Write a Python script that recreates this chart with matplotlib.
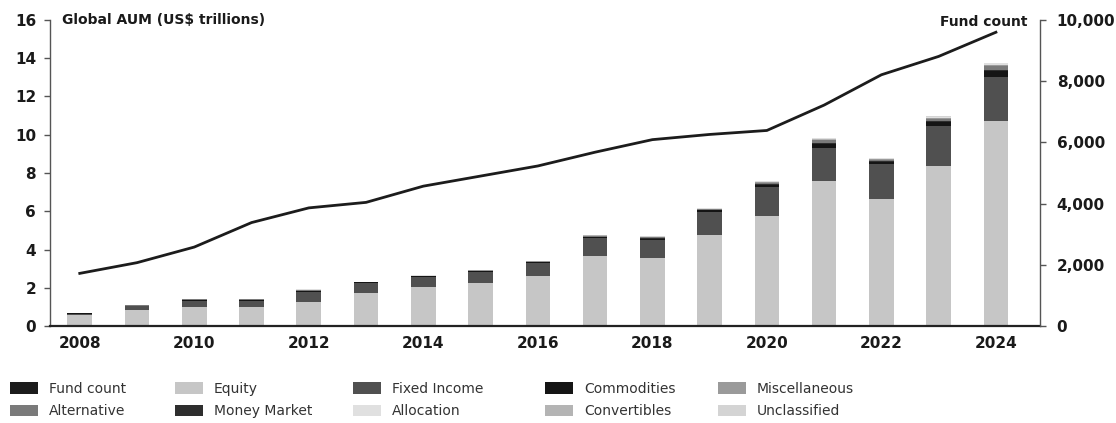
import matplotlib
matplotlib.use("Agg")
import matplotlib.pyplot as plt
from matplotlib.patches import Patch
import numpy as np

plt.rcParams['font.family'] = ['DejaVu Sans']

years = list(range(2008, 2025))
equity = [0.55, 0.84, 1.0, 1.0, 1.28, 1.75, 2.05, 2.25, 2.62, 3.68, 3.56, 4.76, 5.77, 7.6, 6.65, 8.39, 10.7]
fixed_income = [0.08, 0.18, 0.3, 0.33, 0.5, 0.5, 0.52, 0.58, 0.68, 0.92, 0.95, 1.22, 1.5, 1.72, 1.83, 2.05, 2.3]
commodities = [0.03, 0.03, 0.05, 0.05, 0.05, 0.03, 0.03, 0.03, 0.03, 0.05, 0.05, 0.08, 0.12, 0.22, 0.12, 0.25, 0.35]
money_market = [0.005, 0.005, 0.01, 0.005, 0.01, 0.005, 0.005, 0.01, 0.01, 0.02, 0.02, 0.01, 0.03, 0.04, 0.03, 0.04, 0.06]
alternative = [0.02, 0.02, 0.03, 0.02, 0.04, 0.02, 0.02, 0.03, 0.03, 0.05, 0.05, 0.04, 0.08, 0.12, 0.07, 0.11, 0.17]
miscellaneous = [0.005, 0.005, 0.015, 0.005, 0.01, 0.005, 0.005, 0.005, 0.005, 0.01, 0.01, 0.01, 0.02, 0.03, 0.02, 0.03, 0.05]
convertibles = [0.005, 0.005, 0.01, 0.005, 0.01, 0.005, 0.005, 0.01, 0.01, 0.02, 0.01, 0.01, 0.02, 0.03, 0.02, 0.03, 0.04]
allocation = [0.005, 0.01, 0.01, 0.01, 0.015, 0.005, 0.01, 0.01, 0.01, 0.02, 0.02, 0.02, 0.04, 0.05, 0.03, 0.05, 0.08]
unclassified = [0.0, 0.0, 0.005, 0.0, 0.005, 0.0, 0.0, 0.005, 0.005, 0.01, 0.01, 0.01, 0.02, 0.02, 0.01, 0.02, 0.02]
fund_count = [1720, 2070, 2580, 3380, 3860, 4040, 4570, 4900, 5230, 5680, 6090, 6260, 6390, 7220, 8210, 8810, 9600]

left_ticks = [0, 2, 4, 6, 8, 10, 12, 14, 16]
right_ticks = [0, 2000, 4000, 6000, 8000, 10000]
right_tick_labels = ["0", "2,000", "4,000", "6,000", "8,000", "10,000"]
x_ticks = [2008, 2010, 2012, 2014, 2016, 2018, 2020, 2022, 2024]

colors = {
    "Fund count": "#1c1c1c",
    "Equity": "#c6c6c6",
    "Fixed Income": "#505050",
    "Commodities": "#151515",
    "Miscellaneous": "#9a9a9a",
    "Alternative": "#7a7a7a",
    "Money Market": "#2e2e2e",
    "Allocation": "#e0e0e0",
    "Convertibles": "#b4b4b4",
    "Unclassified": "#d4d4d4",
}

stack = [
    ("Equity", equity),
    ("Fixed Income", fixed_income),
    ("Commodities", commodities),
    ("Money Market", money_market),
    ("Alternative", alternative),
    ("Miscellaneous", miscellaneous),
    ("Convertibles", convertibles),
    ("Allocation", allocation),
    ("Unclassified", unclassified),
]

fig = plt.figure(figsize=(11.16, 4.23), dpi=100)
ax = fig.add_axes([50/1116, 1-326/423, (1040-50)/1116, (326-20)/423])

bottom = np.zeros(len(years))
for name, vals in stack:
    ax.bar(years, vals, bottom=bottom, width=0.43, color=colors[name], linewidth=0, zorder=2)
    bottom += np.array(vals)

ax.set_xlim(2007.48, 2024.77)
ax.set_ylim(0, 16)
ax.set_yticks(left_ticks)
ax.set_yticklabels([str(t) for t in left_ticks])
ax.set_xticks(x_ticks)
ax.set_xticklabels([str(t) for t in x_ticks])
for s in ["top", "right"]:
    ax.spines[s].set_visible(False)
ax.spines["left"].set_color("#555555")
ax.spines["left"].set_linewidth(1.0)
ax.spines["bottom"].set_color("#222222")
ax.spines["bottom"].set_linewidth(1.6)
ax.tick_params(axis="y", length=4, width=1, color="#555555", pad=6,
               labelsize=11, labelcolor="#1a1a1a")
ax.tick_params(axis="x", length=0, pad=7, labelsize=11, labelcolor="#1a1a1a")
for lab in ax.get_xticklabels() + ax.get_yticklabels():
    lab.set_fontweight("bold")

ax2 = ax.twinx()
ax2.plot(years, fund_count, color=colors["Fund count"], linewidth=2.0, zorder=3)
ax2.set_ylim(0, 10000)
ax2.set_yticks(right_ticks)
ax2.set_yticklabels(right_tick_labels)
for s in ["top", "left", "bottom"]:
    ax2.spines[s].set_visible(False)
ax2.spines["right"].set_color("#555555")
ax2.spines["right"].set_linewidth(1.0)
ax2.tick_params(axis="y", length=4, width=1, color="#555555", pad=8,
                labelsize=11, labelcolor="#1a1a1a")
for lab in ax2.get_yticklabels():
    lab.set_fontweight("bold")

fig.text(62/1116, 1-20/423, "Global AUM (US$ trillions)", fontsize=10, fontweight="bold",
         color="#1a1a1a", ha="left", va="center")
fig.text(1028/1116, 1-22/423, "Fund count", fontsize=10, fontweight="bold",
         color="#1a1a1a", ha="right", va="center")

legend_cols = [
    (10, ["Fund count", "Alternative"]),
    (175, ["Equity", "Money Market"]),
    (353, ["Fixed Income", "Allocation"]),
    (545, ["Commodities", "Convertibles"]),
    (718, ["Miscellaneous", "Unclassified"]),
]
for xpix, names in legend_cols:
    handles = [Patch(facecolor=colors[n], edgecolor="none", label=n) for n in names]
    fig.legend(handles=handles, loc="upper left",
               bbox_to_anchor=(xpix/1116, 1-382/423), frameon=False,
               fontsize=10, handlelength=2.0, handleheight=0.9, handletextpad=0.8,
               labelspacing=0.6, borderpad=0, borderaxespad=0, labelcolor="#333333")

fig.savefig("out.png", dpi=100, facecolor="white")
